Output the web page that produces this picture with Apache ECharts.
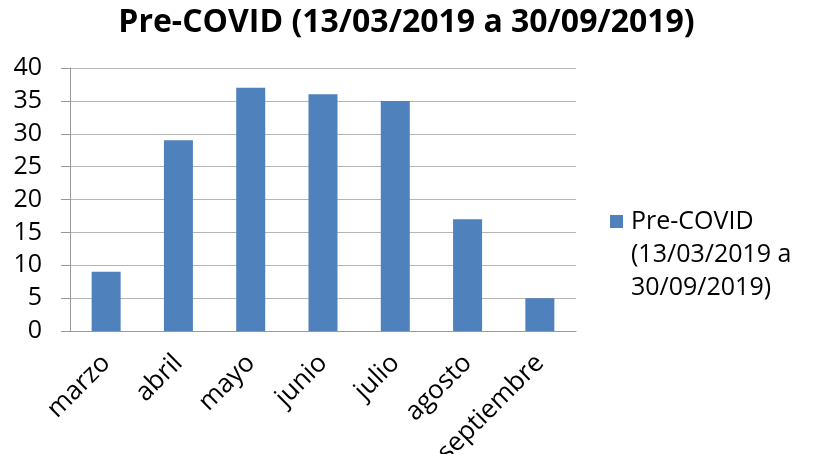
<!DOCTYPE html>
<html>
<head>
<meta charset="utf-8">
<script src="https://cdn.jsdelivr.net/npm/echarts@6/dist/echarts.min.js"></script>
<style>
  html, body { margin: 0; padding: 0; background: #fff; }
  #chart { width: 813px; height: 454px; }
</style>
</head>
<body>
<div id="chart"></div>
<script>
const months = ['marzo', 'abril', 'mayo', 'junio', 'julio', 'agosto', 'septiembre']
const preCovid = [9, 29, 37, 36, 35, 17, 5]
const seriesName = 'Pre-COVID (13/03/2019 a 30/09/2019)'
const legendLines = ['Pre-COVID', '(13/03/2019 a', '30/09/2019)']

const font = 'Open Sans'
const chart = echarts.init(document.getElementById('chart'))

chart.setOption({
  animation: false,
  color: ['#4f81bd'],
  title: {
    text: seriesName,
    left: 'center',
    top: 2,
    textStyle: {
      fontFamily: font,
      fontWeight: 'bold',
      fontSize: 32,
      color: '#000'
    }
  },
  legend: {
    left: 605,
    top: 134,
    icon: 'rect',
    itemWidth: 13,
    itemHeight: 13,
    // two blank lines on top so the marker sits beside the first line
    formatter: () => ' \n \n' + legendLines.map(s => '{t|' + s + '}').join('\n'),
    textStyle: {
      fontFamily: font,
      fontSize: 25,
      lineHeight: 33,
      color: '#000',
      rich: {
        t: {
          fontFamily: font,
          fontSize: 25,
          lineHeight: 33,
          color: '#000',
          padding: [0, 0, 0, 3]
        }
      }
    }
  },
  grid: {
    left: 70,
    right: 237,
    top: 68,
    bottom: 123,
    outerBoundsMode: 'none'
  },
  xAxis: {
    type: 'category',
    data: months,
    axisLine: { lineStyle: { color: '#999' } },
    axisTick: { length: 8, lineStyle: { color: '#999' } },
    axisLabel: {
      rotate: 45,
      margin: 28,
      fontFamily: font,
      fontSize: 26,
      color: '#000'
    }
  },
  yAxis: {
    type: 'value',
    min: 0,
    max: 40,
    interval: 5,
    axisLine: { show: true, lineStyle: { color: '#999' } },
    axisTick: { show: true, length: 9, lineStyle: { color: '#999' } },
    splitLine: { lineStyle: { color: '#b5b5b5' } },
    axisLabel: {
      margin: 28,
      fontFamily: font,
      fontSize: 25,
      color: '#000'
    }
  },
  series: [
    {
      name: seriesName,
      type: 'bar',
      data: preCovid,
      barWidth: 29
    }
  ]
})
</script>
</body>
</html>
